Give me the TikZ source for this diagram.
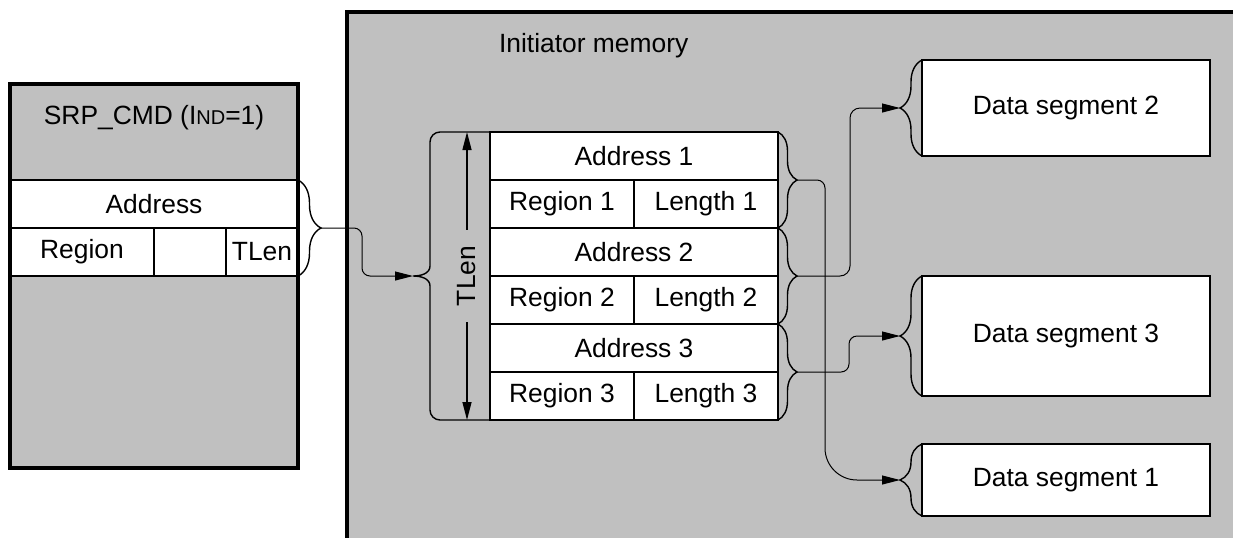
\documentclass[tikz,border=0pt]{standalone}
\usepackage{fontspec}
\setmainfont{Liberation Sans}
\usetikzlibrary{positioning, arrows.meta, decorations.pathreplacing}
\definecolor{memgray}{RGB}{192,192,192}
\newcommand{\smallnd}{{\fontsize{10}{12}\selectfont ND}}

\begin{document}
\begin{tikzpicture}[
        x=0.5pt, y=-0.5pt,
        font=\fontsize{13.2}{16}\selectfont,
        node distance=0pt and 0pt,
        outer/.style={draw, line width=2pt, fill=memgray, inner sep=0pt, outer sep=0pt},
        frame/.style={line width=2pt},
        cell/.style={draw, line width=1pt, fill=white, inner sep=0pt, outer sep=0pt, minimum height=24pt},
        wide/.style={cell, minimum width=144pt},
        half/.style={cell, minimum width=72pt},
        quarter/.style={cell, minimum width=36pt},
        seg/.style={draw, line width=1.2pt, fill=white, inner sep=0pt, outer sep=0pt, minimum width=144pt},
        brace/.style={decorate, decoration={brace, amplitude=#1}, line width=0.7pt},
        link/.style={-{Triangle[length=9pt, width=4.5pt]}, line width=0.5pt},
        dim/.style={{Triangle[length=9pt, width=4.5pt]}-{Triangle[length=9pt, width=4.5pt]}, line width=0.7pt}
    ]
    \path[use as bounding box, clip] (0,0) rectangle (1233,537);

    % initiator memory (runs off the page)
    \node[outer, anchor=north west, minimum width=480pt, minimum height=300pt] (mem) at (347,12) {};
    \node[anchor=west] (memlabel) at (492,46) {Initiator memory};

    % SRP_CMD
    \node[outer, minimum width=144pt, minimum height=192pt] (srp) at (154,276) {};
    \node (srptitle) at (154,118) {SRP\_CMD (I\smallnd=1)};
    \node[wide] (saddr) at (154,204) {Address};
    \node[half, below right=of saddr.south west] (sreg) {Region};
    \node[quarter, right=of sreg] (sgap) {};
    \node[quarter, right=of sgap] (stlen) {TLen};
    \draw[frame] (srp.north west) rectangle (srp.south east);

    % descriptor table
    \node[wide] (a1) at (634,156) {Address 1};
    \node[half, below right=of a1.south west] (r1) {Region 1};
    \node[half, right=of r1] (l1) {Length 1};
    \node[wide, below=24pt of a1] (a2) {Address 2};
    \node[half, below right=of a2.south west] (r2) {Region 2};
    \node[half, right=of r2] (l2) {Length 2};
    \node[wide, below=24pt of a2] (a3) {Address 3};
    \node[half, below right=of a3.south west] (r3) {Region 3};
    \node[half, right=of r3] (l3) {Length 3};

    % TLen strip
    \node[minimum width=30pt, minimum height=144pt, inner sep=0pt, outer sep=0pt, left=of a1.north west, anchor=north east] (strip) {};
    \draw[dim] ([xshift=3.5pt]strip.north) -- ([xshift=3.5pt]strip.south)
        node[midway, fill=memgray, rotate=90, inner xsep=8pt, inner ysep=1pt] (tlen) {TLen};
    \coordinate (ltip) at ([xshift=-8.5pt]strip.west);
    \draw[line width=0.7pt] (a1.north west) -- ++(-50,0) to[out=180, in=90] ++(-10,10)
        -- ++(0,124) to[out=-90, in=0] (ltip) to[out=0, in=90] ++(17,10)
        -- ++(0,124) to[out=-90, in=180] ++(10,10) -- (r3.south west);

    % data segments
    \node[seg, minimum height=48pt] (d2) at (1066,108) {Data segment 2};
    \node[seg, minimum height=60pt] (d3) at (1066,336) {Data segment 3};
    \node[seg, minimum height=36pt] (d1) at (1066,480) {Data segment 1};

    % braces
    \draw[brace=11.5pt] (saddr.north east) -- (stlen.south east);
    \draw[brace=9.5pt] (a1.north east) -- (l1.south east);
    \draw[brace=9.5pt] (a2.north east) -- (l2.south east);
    \draw[brace=9.5pt] (a3.north east) -- (l3.south east);
    \draw[brace=11pt] (d2.south west) -- (d2.north west);
    \draw[brace=11pt] (d3.south west) -- (d3.north west);
    \draw[brace=11pt] (d1.south west) -- (d1.north west);

    \coordinate (stip) at ([xshift=11.5pt]saddr.south east);
    \coordinate (t1) at ([xshift=9.5pt]l1.north east);
    \coordinate (t2) at ([xshift=9.5pt]l2.north east);
    \coordinate (t3) at ([xshift=9.5pt]l3.north east);
    \coordinate (d1tip) at ([xshift=-11pt]d1.west);
    \coordinate (d2tip) at ([xshift=-11pt]d2.west);
    \coordinate (d3tip) at ([xshift=-11pt]d3.west);

    % links
    \draw[link, rounded corners=4pt] (stip) -- ++(41,0) |- (ltip);
    \draw[link] (t1) [rounded corners=4pt] -- ++(28,0) [rounded corners=16pt] |- (d1tip);
    \draw[link, rounded corners=5pt] (t2) -- ++(53,0) |- (d2tip);
    \draw[link, rounded corners=4pt] (t3) -- ++(52,0) |- (d3tip);
\end{tikzpicture}
\end{document}
